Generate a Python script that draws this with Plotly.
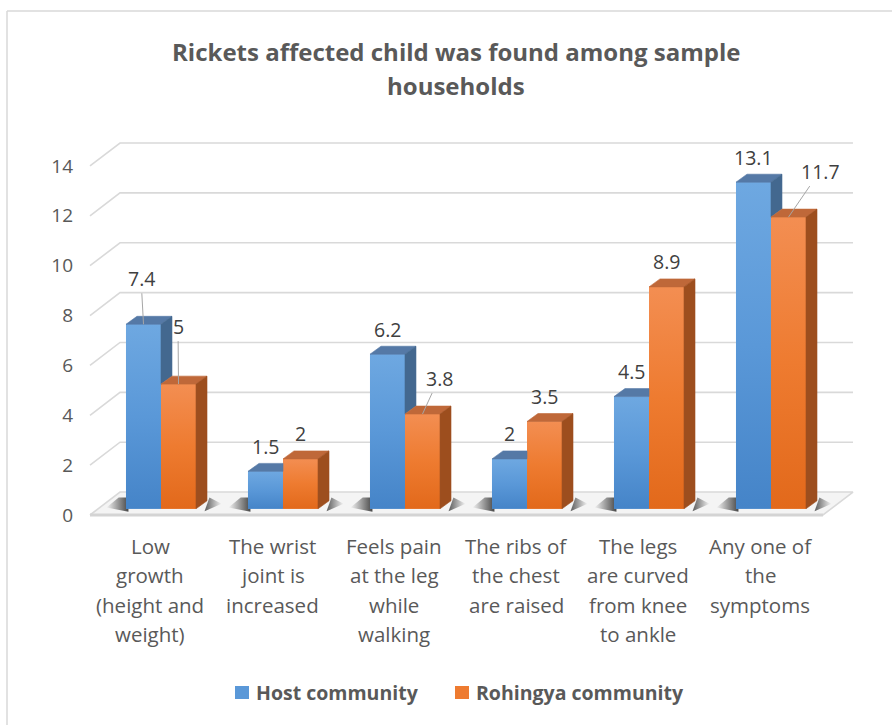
import plotly.graph_objects as go

# ---- data -------------------------------------------------------------
categories = [
    ["Low", "growth", "(height and", "weight)"],
    ["The wrist", "joint is", "increased"],
    ["Feels pain", "at the leg", "while", "walking"],
    ["The ribs of", "the chest", "are raised"],
    ["The legs", "are curved", "from knee", "to ankle"],
    ["Any one of", "the", "symptoms"],
]
host = [7.4, 1.5, 6.2, 2, 4.5, 13.1]
rohingya = [5, 2, 3.8, 3.5, 8.9, 11.7]
series_names = ["Host community", "Rohingya community"]
y_ticks = [0, 2, 4, 6, 8, 10, 12, 14]

# labels that sit away from their bar, joined by a leader line (pixel offsets)
host_leaders = {0: (-2.5, -46)}
rohingya_leaders = {0: (-0.5, -58), 2: (16.5, -36), 5: (31.5, -46)}

# ---- 3-D box geometry (data units) ------------------------------------
BAR_W = 0.287          # width of one bar's front face
BASE = 0.25            # bars stand slightly behind the floor's front edge
DX, DY = 0.09, 0.32    # bar depth projection
WALL_DX, WALL_DY = 0.246, 0.92   # back-wall projection
FLOOR_X0, FLOOR_X1 = -0.582, 5.426
X_RANGE = [-0.5984, 5.7459]
Y_RANGE = [-0.6017, 15.443]

BLUE = dict(front="#5A98D8", light="#6EA8E1", dark="#4584C8",
            top="#5579A6", side="#43688F")
ORANGE = dict(front="#EE7B30", light="#F38E52", dark="#E2691B",
              top="#BF6839", side="#9D4E1E")
GRID = "#D9D9D9"
TEXT = "#595959"
FONT = "Open Sans"

fig = go.Figure()


def poly(xs, ys, color, axes=("x2", "y2"), **kw):
    fig.add_trace(go.Scatter(
        x=xs + [xs[0]], y=ys + [ys[0]], mode="lines", fill="toself",
        fillcolor=color, line=dict(color=color, width=0.6),
        hoverinfo="skip", showlegend=False, xaxis=axes[0], yaxis=axes[1], **kw))


# ---- back wall gridlines and floor (base axes, drawn first) -----------
for v in y_ticks[1:]:
    fig.add_trace(go.Scatter(
        x=[FLOOR_X0, FLOOR_X0 + WALL_DX, FLOOR_X1 + WALL_DX],
        y=[v, v + WALL_DY, v + WALL_DY],
        mode="lines", line=dict(color=GRID, width=1.6),
        hoverinfo="skip", showlegend=False))

fig.add_trace(go.Scatter(
    x=[FLOOR_X0, FLOOR_X1, FLOOR_X1 + WALL_DX, FLOOR_X0 + WALL_DX, FLOOR_X0],
    y=[0, 0, WALL_DY, WALL_DY, 0],
    mode="lines", fill="toself", fillcolor="#F4F4F4",
    line=dict(color=GRID, width=1.6), hoverinfo="skip", showlegend=False))
fig.add_trace(go.Scatter(
    x=[FLOOR_X0, FLOOR_X1], y=[0, 0], mode="lines",
    line=dict(color="#D4D4D4", width=3), hoverinfo="skip", showlegend=False))

# soft shadows cast on the floor by each pair of bars
for i in range(len(host)):
    x0 = i - BAR_W
    x1 = i + BAR_W + DX
    fig.add_trace(go.Scatter(
        x=[x0 - 0.16, x0 + 0.02, x0 + 0.02, x0 - 0.06, x0 - 0.16],
        y=[BASE + 0.05, BASE - 0.12, BASE + 0.45, BASE + 0.45, BASE + 0.05],
        mode="lines", fill="toself", line=dict(width=0),
        fillgradient=dict(type="horizontal",
                          colorscale=[[0, "rgba(40,40,40,0)"], [1, "rgba(40,40,40,0.85)"]]),
        hoverinfo="skip", showlegend=False))
    fig.add_trace(go.Scatter(
        x=[x1 - 0.02, x1 + 0.12, x1 + 0.02, x1 - 0.02],
        y=[BASE - 0.1, BASE + 0.2, BASE + 0.45, BASE - 0.1],
        mode="lines", fill="toself", line=dict(width=0),
        fillgradient=dict(type="horizontal",
                          colorscale=[[0, "rgba(40,40,40,0.75)"], [1, "rgba(40,40,40,0)"]]),
        hoverinfo="skip", showlegend=False))

# ---- bars: front faces -------------------------------------------------
host_x = [i - BAR_W / 2 for i in range(len(host))]
roh_x = [i + BAR_W / 2 for i in range(len(rohingya))]
fig.add_trace(go.Bar(x=host_x, y=host, base=BASE, width=BAR_W, name=series_names[0],
                     marker=dict(color=BLUE["front"], line=dict(width=0)),
                     xaxis="x2", yaxis="y2", showlegend=False))
fig.add_trace(go.Bar(x=roh_x, y=rohingya, base=BASE, width=BAR_W, name=series_names[1],
                     marker=dict(color=ORANGE["front"], line=dict(width=0)),
                     xaxis="x2", yaxis="y2", showlegend=False))

# vertical shading of each front face
for xs, vals, pal in ((host_x, host, BLUE), (roh_x, rohingya, ORANGE)):
    for xc, v in zip(xs, vals):
        a, b = xc - BAR_W / 2, xc + BAR_W / 2
        fig.add_trace(go.Scatter(
            x=[a, b, b, a, a], y=[BASE, BASE, BASE + v, BASE + v, BASE],
            mode="lines", fill="toself", line=dict(width=0),
            fillgradient=dict(type="vertical",
                              colorscale=[[0, pal["dark"]], [0.5, pal["front"]], [1, pal["light"]]]),
            hoverinfo="skip", showlegend=False, xaxis="x2", yaxis="y2"))

# ---- bars: top and side faces -----------------------------------------
for i, (h, r) in enumerate(zip(host, rohingya)):
    bx0, bx1 = i - BAR_W, i
    ox0, ox1 = i, i + BAR_W
    th, tr = BASE + h, BASE + r
    # host top face (right part hidden when the orange bar is taller)
    if tr >= th + DY:
        poly([bx0, bx1, bx1, bx0 + DX], [th, th, th + DY, th + DY], BLUE["top"])
    else:
        poly([bx0, bx1, bx1 + DX, bx0 + DX], [th, th, th + DY, th + DY], BLUE["top"])
    # host side face, visible only above the orange bar
    if th > tr:
        poly([bx1, bx1, bx1 + DX, bx1 + DX], [tr, th, th + DY, tr + DY], BLUE["side"])
    # orange top and side faces
    poly([ox0, ox1, ox1 + DX, ox0 + DX], [tr, tr, tr + DY, tr + DY], ORANGE["top"])
    poly([ox1, ox1, ox1 + DX, ox1 + DX], [BASE, tr, tr + DY, BASE + DY], ORANGE["side"])

# ---- value labels -----------------------------------------------------
annotations = []
LABEL_FONT = dict(size=19.5, color="#404040", family=FONT)


def value_label(x, v, leaders, idx):
    txt = f"{v:g}"
    if idx in leaders:
        ax, ay = leaders[idx]
        annotations.append(dict(
            x=x, y=BASE + v, xref="x2", yref="y2", text=txt, showarrow=True,
            ax=ax, ay=ay, arrowhead=0, arrowwidth=1, arrowcolor="#A6A6A6",
            standoff=0, startstandoff=0, font=LABEL_FONT))
    else:
        annotations.append(dict(
            x=x, y=BASE + v, xref="x2", yref="y2", text=txt, showarrow=False,
            yshift=25, font=LABEL_FONT))


for i, v in enumerate(host):
    value_label(host_x[i], v, host_leaders, i)
for i, v in enumerate(rohingya):
    value_label(roh_x[i], v, rohingya_leaders, i)

# ---- layout helpers (pixel -> paper) ----------------------------------
W, H = 892, 725
ML, MR, MT, MB = 88, 30, 130, 195
PW, PH = W - ML - MR, H - MT - MB


def px(xp):
    return (xp - ML) / PW


def py(yp):
    return (H - MB - yp) / PH


# category labels, one annotation per line
for i, lines in enumerate(categories):
    for k, line in enumerate(lines):
        annotations.append(dict(
            x=i - 0.09, y=py(546 + 29.3 * k), xref="x", yref="paper", text=line,
            showarrow=False, xanchor="center", yanchor="middle",
            font=dict(size=20.5, color=TEXT, family=FONT)))

# title
for k, line in enumerate(["Rickets affected child was found among sample", "households"]):
    annotations.append(dict(
        x=px(456), y=py(52 + 34 * k), xref="paper", yref="paper", text=f"<b>{line}</b>",
        showarrow=False, xanchor="center", yanchor="middle",
        font=dict(size=24, color=TEXT, family=FONT)))

# legend entries
shapes = []
legend_items = [(235, series_names[0], BLUE["front"]), (455, series_names[1], ORANGE["front"])]
for x_left, name, color in legend_items:
    shapes.append(dict(type="rect", xref="paper", yref="paper",
                       x0=px(x_left), x1=px(x_left + 14), y0=py(699), y1=py(686),
                       fillcolor=color, line=dict(width=0)))
    annotations.append(dict(
        x=px(x_left + 19), y=py(692), xref="paper", yref="paper", text=f"<b>{name}</b>",
        showarrow=False, xanchor="left", yanchor="middle",
        font=dict(size=19.5, color=TEXT, family=FONT)))

# chart-area border
shapes.append(dict(type="line", xref="paper", yref="paper",
                   x0=px(7), x1=px(900), y0=py(11), y1=py(11),
                   line=dict(color=GRID, width=1.5)))
shapes.append(dict(type="line", xref="paper", yref="paper",
                   x0=px(7), x1=px(7), y0=py(11), y1=py(730),
                   line=dict(color=GRID, width=1.5)))

axis_common = dict(showgrid=False, zeroline=False, showline=False, fixedrange=True)
fig.update_layout(
    width=W, height=H,
    margin=dict(l=ML, r=MR, t=MT, b=MB),
    paper_bgcolor="white", plot_bgcolor="white",
    barmode="overlay", showlegend=False,
    xaxis=dict(range=X_RANGE, showticklabels=False, **axis_common),
    yaxis=dict(range=Y_RANGE, tickvals=y_ticks, ticks="", ticklabelstandoff=14,
               tickfont=dict(size=19, color=TEXT, family=FONT), **axis_common),
    xaxis2=dict(range=X_RANGE, overlaying="x", visible=False, **axis_common),
    yaxis2=dict(range=Y_RANGE, overlaying="y", visible=False, **axis_common),
    annotations=annotations, shapes=shapes,
    font=dict(family=FONT),
)

fig.write_html("out.html")
